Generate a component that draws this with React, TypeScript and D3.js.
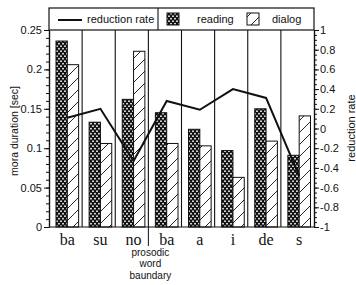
import { useEffect, useRef } from 'react'
import * as d3 from 'd3'

// mora labels along the x axis (two "ba", so bars are keyed by index)
const moras = ['ba', 'su', 'no', 'ba', 'a', 'i', 'de', 's']
// mora duration [sec]
const readingDur = [0.236, 0.133, 0.162, 0.145, 0.124, 0.097, 0.15, 0.091]
const dialogDur = [0.206, 0.106, 0.223, 0.106, 0.103, 0.063, 0.109, 0.141]
// reduction rate (right axis)
const reductionRate = [0.11, 0.2, -0.33, 0.28, 0.19, 0.4, 0.31, -0.48]

const durTicks = [0, 0.05, 0.1, 0.15, 0.2, 0.25]
const durTickLabels = ['0', '0.05', '0.1', '0.15', '0.2', '0.25']
const rateTicks = [-1, -0.8, -0.6, -0.4, -0.2, 0, 0.2, 0.4, 0.6, 0.8, 1]
const rateTickLabels = ['-1', '-0.8', '-0.6', '-0.4', '-0.2', '0', '0.2', '0.4', '0.6', '0.8', '1']

const WIDTH = 356
const HEIGHT = 285
const INK = '#111'
const SANS = '"Liberation Sans", Arial, sans-serif'
const SERIF = '"Liberation Serif", "Times New Roman", serif'

export default function App() {
  const svgRef = useRef<SVGSVGElement>(null)

  useEffect(() => {
    if (!svgRef.current) return
    const svg = d3.select(svgRef.current)
    svg.selectAll('*').remove()

    const left = 49
    const right = 314
    const top = 30
    const bottom = 227

    const x = d3
      .scaleBand<number>()
      .domain(moras.map((_, i) => i))
      .range([left, right])
    const bw = x.bandwidth()
    const sub = d3
      .scaleBand<string>()
      .domain(['reading', 'dialog'])
      .range([7, bw - 3.5])
    const yDur = d3.scaleLinear().domain([0, 0.25]).range([bottom, top])
    const yRate = d3.scaleLinear().domain([-1, 1]).range([bottom, top])

    // patterns
    const defs = svg.append('defs')
    const dots = defs
      .append('pattern')
      .attr('id', 'dots')
      .attr('patternUnits', 'userSpaceOnUse')
      .attr('width', 4)
      .attr('height', 5)
    dots.append('rect').attr('width', 4).attr('height', 5).attr('fill', INK)
    dots.append('circle').attr('cx', 1).attr('cy', 1.2).attr('r', 0.9).attr('fill', '#fff')
    dots.append('circle').attr('cx', 3).attr('cy', 3.7).attr('r', 0.9).attr('fill', '#fff')

    const hatch = defs
      .append('pattern')
      .attr('id', 'hatch')
      .attr('patternUnits', 'userSpaceOnUse')
      .attr('width', 12)
      .attr('height', 12)
    hatch.append('rect').attr('width', 12).attr('height', 12).attr('fill', '#fff')
    hatch
      .append('path')
      .attr('d', 'M-1,13 L13,-1')
      .attr('stroke', INK)
      .attr('stroke-width', 0.9)

    // category separators
    svg
      .append('g')
      .selectAll('line')
      .data(moras.slice(1).map((_, i) => i + 1))
      .enter()
      .append('line')
      .attr('x1', (i) => x(i)!)
      .attr('x2', (i) => x(i)!)
      .attr('y1', bottom)
      .attr('y2', top)
      .attr('stroke', INK)
      .attr('stroke-width', 1.1)

    // bars
    const bars = svg.append('g')
    bars
      .selectAll('rect.reading')
      .data(readingDur)
      .enter()
      .append('rect')
      .attr('class', 'reading')
      .attr('x', (_, i) => x(i)! + sub('reading')!)
      .attr('width', sub.bandwidth())
      .attr('y', (d) => yDur(d))
      .attr('height', (d) => bottom - yDur(d))
      .attr('fill', 'url(#dots)')
      .attr('stroke', INK)
      .attr('stroke-width', 1)
    bars
      .selectAll('rect.dialog')
      .data(dialogDur)
      .enter()
      .append('rect')
      .attr('class', 'dialog')
      .attr('x', (_, i) => x(i)! + sub('dialog')!)
      .attr('width', sub.bandwidth())
      .attr('y', (d) => yDur(d))
      .attr('height', (d) => bottom - yDur(d))
      .attr('fill', 'url(#hatch)')
      .attr('stroke', INK)
      .attr('stroke-width', 1)

    // reduction rate line
    const line = d3
      .line<number>()
      .x((_, i) => x(i)! + sub('dialog')!)
      .y((d) => yRate(d))
    svg
      .append('path')
      .datum(reductionRate)
      .attr('d', line)
      .attr('fill', 'none')
      .attr('stroke', INK)
      .attr('stroke-width', 2)

    // left axis
    const axisStyle = (g: d3.Selection<SVGGElement, unknown, null, undefined>) => {
      g.selectAll('path').attr('stroke', INK).attr('stroke-width', 1.2)
      g.selectAll('line').attr('stroke', INK)
      g.selectAll('text').attr('fill', INK).attr('font-family', SANS).attr('font-size', 11)
    }
    svg
      .append('g')
      .attr('transform', `translate(${left},0)`)
      .call(
        d3
          .axisLeft(yDur)
          .tickValues(d3.range(26).map((i) => i / 100))
          .tickSize(3)
          .tickSizeOuter(0)
          .tickFormat(() => ''),
      )
      .call(axisStyle)
    svg
      .append('g')
      .attr('transform', `translate(${left},0)`)
      .call(
        d3
          .axisLeft(yDur)
          .tickValues(durTicks)
          .tickSize(5)
          .tickSizeOuter(0)
          .tickPadding(2)
          .tickFormat((_, i) => durTickLabels[i]),
      )
      .call(axisStyle)

    // right axis
    svg
      .append('g')
      .attr('transform', `translate(${right},0)`)
      .call(
        d3
          .axisRight(yRate)
          .tickValues(d3.range(41).map((i) => -1 + i * 0.05))
          .tickSize(3)
          .tickSizeOuter(0)
          .tickFormat(() => ''),
      )
      .call(axisStyle)
    svg
      .append('g')
      .attr('transform', `translate(${right},0)`)
      .call(
        d3
          .axisRight(yRate)
          .tickValues(rateTicks)
          .tickSize(5)
          .tickSizeOuter(0)
          .tickPadding(1)
          .tickFormat((_, i) => rateTickLabels[i]),
      )
      .call(axisStyle)

    // x axis baseline
    svg
      .append('line')
      .attr('x1', left)
      .attr('x2', right)
      .attr('y1', bottom)
      .attr('y2', bottom)
      .attr('stroke', INK)
      .attr('stroke-width', 1.2)

    // mora labels
    svg
      .append('g')
      .selectAll('text')
      .data(moras)
      .enter()
      .append('text')
      .attr('x', (_, i) => x(i)! + sub('dialog')!)
      .attr('y', 245)
      .attr('text-anchor', 'middle')
      .attr('font-family', SERIF)
      .attr('font-size', 16)
      .attr('fill', INK)
      .text((d) => d)

    // prosodic word boundary marker
    svg
      .append('line')
      .attr('x1', x(3)!)
      .attr('x2', x(3)!)
      .attr('y1', bottom)
      .attr('y2', 246)
      .attr('stroke', INK)
      .attr('stroke-width', 1)
    const note = svg
      .append('text')
      .attr('text-anchor', 'middle')
      .attr('font-family', SANS)
      .attr('font-size', 10)
      .attr('fill', INK)
    ;['prosodic', 'word', 'baundary'].forEach((t, i) => {
      note
        .append('tspan')
        .attr('x', x(3)! + 2)
        .attr('y', 255.5 + i * 11.5)
        .text(t)
    })

    // axis titles
    svg
      .append('text')
      .attr('transform', 'translate(18,131) rotate(-90)')
      .attr('text-anchor', 'middle')
      .attr('font-family', SANS)
      .attr('font-size', 10.5)
      .attr('fill', INK)
      .text('mora duration [sec]')
    svg
      .append('text')
      .attr('transform', 'translate(355,128) rotate(-90)')
      .attr('text-anchor', 'middle')
      .attr('font-family', SANS)
      .attr('font-size', 11)
      .attr('fill', INK)
      .text('reduction rate')

    // legend
    const lg = svg.append('g')
    lg.append('rect')
      .attr('x', left)
      .attr('y', 8)
      .attr('width', right - left)
      .attr('height', top - 8)
      .attr('fill', '#fff')
      .attr('stroke', INK)
      .attr('stroke-width', 1.2)
    lg.append('line')
      .attr('x1', 158)
      .attr('x2', 158)
      .attr('y1', 8)
      .attr('y2', top)
      .attr('stroke', INK)
      .attr('stroke-width', 1.1)
    lg.append('line')
      .attr('x1', 58)
      .attr('x2', 82)
      .attr('y1', 20)
      .attr('y2', 20)
      .attr('stroke', INK)
      .attr('stroke-width', 2)
    lg.append('rect')
      .attr('x', 167)
      .attr('y', 13)
      .attr('width', 12)
      .attr('height', 12)
      .attr('fill', 'url(#dots)')
      .attr('stroke', INK)
    lg.append('rect')
      .attr('x', 247)
      .attr('y', 13)
      .attr('width', 12)
      .attr('height', 12)
      .attr('fill', 'url(#hatch)')
      .attr('stroke', INK)
    const legendText = [
      { label: 'reduction rate', x: 87 },
      { label: 'reading', x: 197 },
      { label: 'dialog', x: 272 },
    ]
    lg.selectAll('text.lbl')
      .data(legendText)
      .enter()
      .append('text')
      .attr('class', 'lbl')
      .attr('x', (d) => d.x)
      .attr('y', 23)
      .attr('font-family', SANS)
      .attr('font-size', 11)
      .attr('fill', INK)
      .text((d) => d.label)
  }, [])

  return (
    <svg
      ref={svgRef}
      width={WIDTH}
      height={HEIGHT}
      style={{ position: 'absolute', left: 0, top: 0, background: '#fff' }}
    />
  )
}
